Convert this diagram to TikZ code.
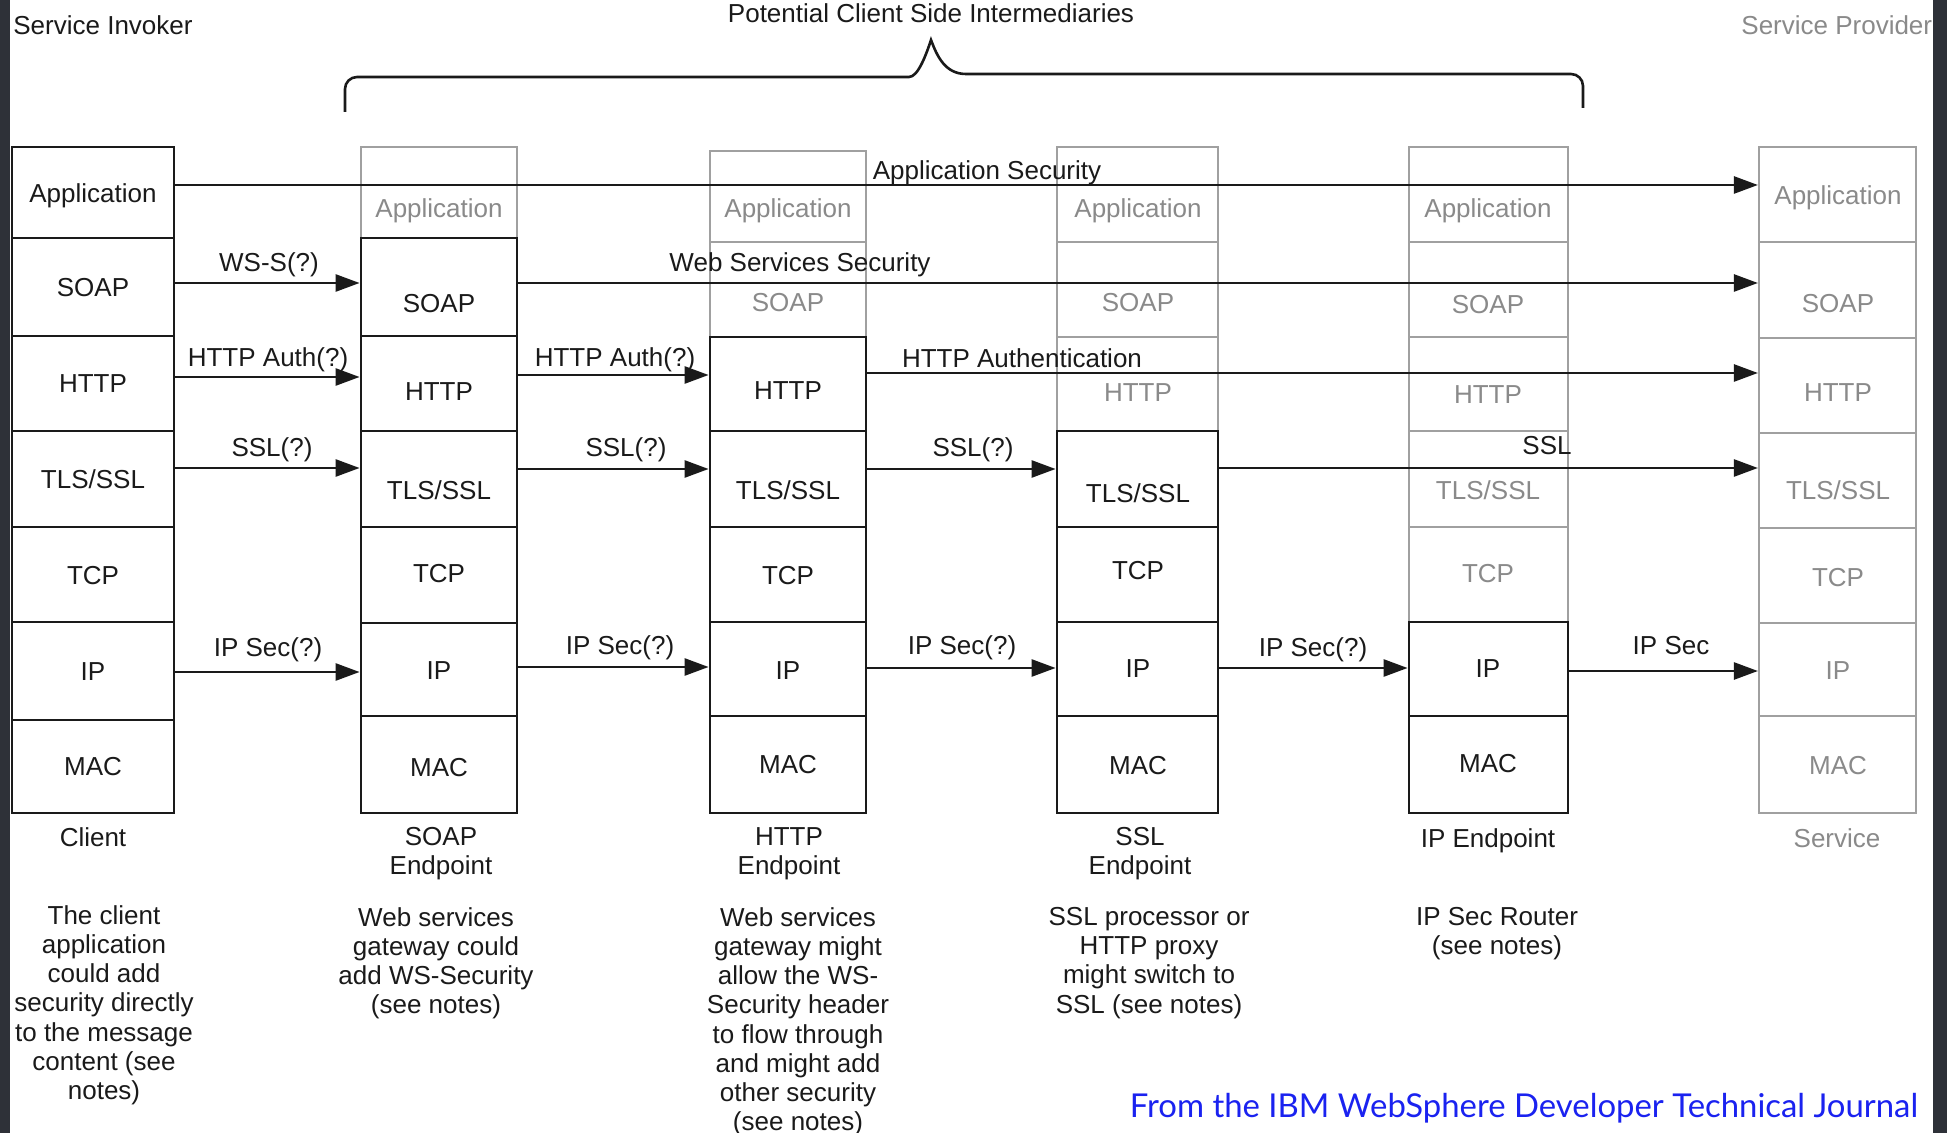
\documentclass[tikz,border=0pt]{standalone}
\usepackage{fontspec}
\setmainfont{Liberation Sans}
\newfontfamily\footfont{Lato}
\usetikzlibrary{arrows.meta,fit}
\definecolor{ink}{HTML}{1A1A1A}
\definecolor{lg}{HTML}{8A8A8A}
\definecolor{lgl}{HTML}{A0A0A0}
\definecolor{frame}{HTML}{2E3138}
\definecolor{footblue}{HTML}{1A22F0}
\tikzset{
 bcell/.style={draw=ink, line width=1.4pt, inner sep=0pt},
 gcell/.style={draw=lgl, line width=1.1pt, inner sep=0pt},
 btxt/.style={text=ink, font=\fontsize{13}{14.6}\selectfont, inner sep=0pt, text height=9.4pt, text depth=0pt},
 gtxt/.style={btxt, text=lg},
 arr/.style={draw=ink, line width=1.3pt, -{Triangle[length=12pt,width=8.5pt]}},
 desc/.style={text=ink, font=\fontsize{13}{14.6}\selectfont, align=center, inner sep=0pt, anchor=north},
 brace/.style={draw=ink, line width=1.3pt},
}
\newcommand\mycell[6]{\node[#6, fit={(#2,#3)(#4,#5)}] (#1) {};}
\begin{document}
\begin{tikzpicture}[x=0.5pt,y=-0.5pt]
\useasboundingbox (0,0) rectangle (1947,1133);
\fill[white] (0,0) rectangle (1947,1133);

% ---------- top labels ----------
\node[btxt, anchor=west] (inv) at (13,25) {Service Invoker};
\node[gtxt, anchor=west] (prov) at (1741,25) {Service Provider};
\node[btxt] (pot) at (931,13) {Potential Client Side Intermediaries};
\draw[brace] (345,112) [rounded corners=6pt] -- (345,77) -- (897,77) [sharp corners] .. controls (918,77) and (926,55) .. (931,40) .. controls (937,56) and (945,74) .. (966,74) [rounded corners=6pt] -- (1583,74) -- (1583,108);

% ---------- Client (all black) ----------
\mycell{cl1}{12}{147}{174}{238}{bcell}
\mycell{cl2}{12}{238}{174}{336}{bcell}
\mycell{cl3}{12}{336}{174}{431}{bcell}
\mycell{cl4}{12}{431}{174}{527}{bcell}
\mycell{cl5}{12}{527}{174}{622}{bcell}
\mycell{cl6}{12}{622}{174}{720}{bcell}
\mycell{cl7}{12}{720}{174}{813}{bcell}
\node[btxt] (cl1t) at (93,193) {Application};
\node[btxt] (cl2t) at (93,287) {SOAP};
\node[btxt] (cl3t) at (93,383) {HTTP};
\node[btxt] (cl4t) at (93,479) {TLS/SSL};
\node[btxt] (cl5t) at (93,575) {TCP};
\node[btxt] (cl6t) at (93,671) {IP};
\node[btxt] (cl7t) at (93,766) {MAC};

% ---------- SOAP endpoint ----------
\mycell{se1}{361}{147}{517}{238}{gcell}
\mycell{se2}{361}{238}{517}{336}{bcell}
\mycell{se3}{361}{336}{517}{431}{bcell}
\mycell{se4}{361}{431}{517}{527}{bcell}
\mycell{se5}{361}{527}{517}{623}{bcell}
\mycell{se6}{361}{623}{517}{716}{bcell}
\mycell{se7}{361}{716}{517}{813}{bcell}
\node[gtxt] (se1t) at (439,208) {Application};
\node[btxt] (se2t) at (439,303) {SOAP};
\node[btxt] (se3t) at (439,391) {HTTP};
\node[btxt] (se4t) at (439,490) {TLS/SSL};
\node[btxt] (se5t) at (439,573) {TCP};
\node[btxt] (se6t) at (439,670) {IP};
\node[btxt] (se7t) at (439,767) {MAC};

% ---------- HTTP endpoint ----------
\mycell{he1}{710}{151}{866}{242}{gcell}
\mycell{he2}{710}{242}{866}{337}{gcell}
\mycell{he3}{710}{337}{866}{431}{bcell}
\mycell{he4}{710}{431}{866}{527}{bcell}
\mycell{he5}{710}{527}{866}{622}{bcell}
\mycell{he6}{710}{622}{866}{716}{bcell}
\mycell{he7}{710}{716}{866}{813}{bcell}
\node[gtxt] (he1t) at (788,208) {Application};
\node[gtxt] (he2t) at (788,302) {SOAP};
\node[btxt] (he3t) at (788,390) {HTTP};
\node[btxt] (he4t) at (788,490) {TLS/SSL};
\node[btxt] (he5t) at (788,575) {TCP};
\node[btxt] (he6t) at (788,670) {IP};
\node[btxt] (he7t) at (788,764) {MAC};

% ---------- SSL endpoint ----------
\mycell{ss1}{1057}{147}{1218}{242}{gcell}
\mycell{ss2}{1057}{242}{1218}{337}{gcell}
\mycell{ss3}{1057}{337}{1218}{431}{gcell}
\mycell{ss4}{1057}{431}{1218}{527}{bcell}
\mycell{ss5}{1057}{527}{1218}{622}{bcell}
\mycell{ss6}{1057}{622}{1218}{716}{bcell}
\mycell{ss7}{1057}{716}{1218}{813}{bcell}
\node[gtxt] (ss1t) at (1138,208) {Application};
\node[gtxt] (ss2t) at (1138,302) {SOAP};
\node[gtxt] (ss3t) at (1138,392) {HTTP};
\node[btxt] (ss4t) at (1138,493) {TLS/SSL};
\node[btxt] (ss5t) at (1138,570) {TCP};
\node[btxt] (ss6t) at (1138,668) {IP};
\node[btxt] (ss7t) at (1138,765) {MAC};

% ---------- IP endpoint ----------
\mycell{ie1}{1409}{147}{1568}{242}{gcell}
\mycell{ie2}{1409}{242}{1568}{337}{gcell}
\mycell{ie3}{1409}{337}{1568}{431}{gcell}
\mycell{ie4}{1409}{431}{1568}{527}{gcell}
\mycell{ie5}{1409}{527}{1568}{622}{gcell}
\mycell{ie6}{1409}{622}{1568}{716}{bcell}
\mycell{ie7}{1409}{716}{1568}{813}{bcell}
\node[gtxt] (ie1t) at (1488,208) {Application};
\node[gtxt] (ie2t) at (1488,304) {SOAP};
\node[gtxt] (ie3t) at (1488,394) {HTTP};
\node[gtxt] (ie4t) at (1488,490) {TLS/SSL};
\node[gtxt] (ie5t) at (1488,573) {TCP};
\node[btxt] (ie6t) at (1488,668) {IP};
\node[btxt] (ie7t) at (1488,763) {MAC};

% ---------- Service (all grey) ----------
\mycell{sv1}{1759}{147}{1916}{242}{gcell}
\mycell{sv2}{1759}{242}{1916}{338}{gcell}
\mycell{sv3}{1759}{338}{1916}{433}{gcell}
\mycell{sv4}{1759}{433}{1916}{528}{gcell}
\mycell{sv5}{1759}{528}{1916}{623}{gcell}
\mycell{sv6}{1759}{623}{1916}{716}{gcell}
\mycell{sv7}{1759}{716}{1916}{813}{gcell}
\node[gtxt] (sv1t) at (1838,195) {Application};
\node[gtxt] (sv2t) at (1838,303) {SOAP};
\node[gtxt] (sv3t) at (1838,392) {HTTP};
\node[gtxt] (sv4t) at (1838,490) {TLS/SSL};
\node[gtxt] (sv5t) at (1838,577) {TCP};
\node[gtxt] (sv6t) at (1838,670) {IP};
\node[gtxt] (sv7t) at (1838,765) {MAC};

% ---------- arrow levels ----------
\coordinate (yApp) at (0,185);
\coordinate (yWS) at (0,283);
\coordinate (yHa) at (0,377);
\coordinate (yHb) at (0,375);
\coordinate (yHc) at (0,373);
\coordinate (ySa) at (0,468);
\coordinate (ySb) at (0,469);
\coordinate (yIa) at (0,672);
\coordinate (yIb) at (0,667);
\coordinate (yIc) at (0,668);
\coordinate (yId) at (0,671);

\draw[arr] (cl1.east |- yApp) -- (sv1.west |- yApp);
\draw[arr] (cl2.east |- yWS) -- (se2.west |- yWS);
\draw[arr] (se2.east |- yWS) -- (sv2.west |- yWS);
\draw[arr] (cl3.east |- yHa) -- (se3.west |- yHa);
\draw[arr] (se3.east |- yHb) -- (he3.west |- yHb);
\draw[arr] (he3.east |- yHc) -- (sv3.west |- yHc);
\draw[arr] (cl4.east |- ySa) -- (se4.west |- ySa);
\draw[arr] (se4.east |- ySb) -- (he4.west |- ySb);
\draw[arr] (he4.east |- ySb) -- (ss4.west |- ySb);
\draw[arr] (ss4.east |- ySa) -- (sv4.west |- ySa);
\draw[arr] (cl6.east |- yIa) -- (se6.west |- yIa);
\draw[arr] (se6.east |- yIb) -- (he6.west |- yIb);
\draw[arr] (he6.east |- yIc) -- (ss6.west |- yIc);
\draw[arr] (ss6.east |- yIc) -- (ie6.west |- yIc);
\draw[arr] (ie6.east |- yId) -- (sv6.west |- yId);

% ---------- arrow labels ----------
\node[btxt] (lApp) at (987,170) {Application Security};
\node[btxt] (lWS1) at (269,262) {WS-S(?)};
\node[btxt] (lWS2) at (800,262) {Web Services Security};
\node[btxt] (lH1) at (268,357) {HTTP Auth(?)};
\node[btxt] (lH2) at (615,357) {HTTP Auth(?)};
\node[btxt] (lH3) at (1022,358) {HTTP Authentication};
\node[btxt] (lS1) at (272,447) {SSL(?)};
\node[btxt] (lS2) at (626,447) {SSL(?)};
\node[btxt] (lS3) at (973,447) {SSL(?)};
\node[btxt] (lS4) at (1547,445) {SSL};
\node[btxt] (lI1) at (268,647) {IP Sec(?)};
\node[btxt] (lI2) at (620,645) {IP Sec(?)};
\node[btxt] (lI3) at (962,645) {IP Sec(?)};
\node[btxt] (lI4) at (1313,647) {IP Sec(?)};
\node[btxt] (lI5) at (1671,645) {IP Sec};

% ---------- captions ----------
\node[btxt] (capcl) at (93,837) {Client};
\node[desc] (capse) at (441,827) {SOAP\\Endpoint};
\node[desc] (caphe) at (789,827) {HTTP\\Endpoint};
\node[desc] (capss) at (1140,827) {SSL\\Endpoint};
\node[btxt] (capie) at (1488,838) {IP Endpoint};
\node[gtxt] (capsv) at (1837,838) {Service};

% ---------- descriptions ----------
\node[desc] (dcl) at (104,905) {The client\\application\\could add\\security directly\\to the message\\content (see\\notes)};
\node[desc] (dse) at (436,907) {Web services\\gateway could\\add WS-Security\\(see notes)};
\node[desc] (dhe) at (798,907) {Web services\\gateway might\\allow the WS-\\Security header\\to flow through\\and might add\\other security\\(see notes)};
\node[desc] (dss) at (1149,907) {SSL processor or\\HTTP proxy\\might switch to\\SSL (see notes)};
\node[desc] (die) at (1497,907) {IP Sec Router\\(see notes)};

% ---------- footer ----------
\node[inner sep=0pt, text=footblue] (foot) at (1524,1108) {\resizebox{394pt}{!}{\footfont From the IBM WebSphere Developer Technical Journal}};

% ---------- dark side frame ----------
\fill[frame] (0,0) rectangle (10,1133);
\fill[frame] (1933,0) rectangle (1947,1133);
\end{tikzpicture}
\end{document}
